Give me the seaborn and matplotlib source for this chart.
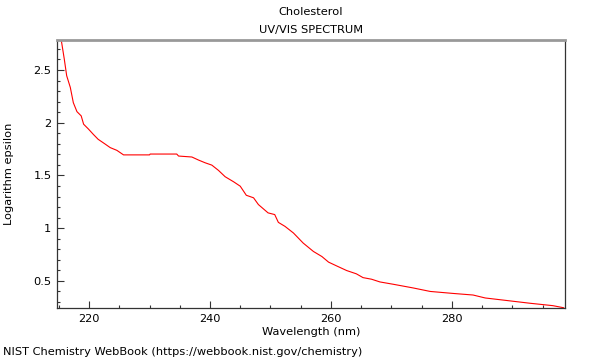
import numpy as np
import pandas as pd
import matplotlib
matplotlib.use("Agg")
import matplotlib.pyplot as plt
import seaborn as sns
from matplotlib.ticker import MultipleLocator

# UV/VIS spectrum of cholesterol
wavelength = [214.8, 215.4, 215.9, 216.3, 216.9, 217.4, 218.0, 218.7, 219.1, 219.9,
              220.7, 221.5, 222.6, 223.5, 224.6, 225.7, 230.0, 230.1, 234.5, 234.8,
              237.0, 238.1, 239.2, 240.3, 241.4, 242.5, 243.9, 245.0, 246.0, 247.2,
              248.0, 249.6, 250.7, 251.3, 252.4, 253.8, 255.4, 257.1, 258.5, 259.6,
              260.9, 262.6, 264.2, 265.3, 266.7, 268.1, 270.3, 273.6, 276.4, 280.2,
              283.5, 285.5, 290.1, 292.9, 296.7, 298.5]
log_eps = [2.785, 2.785, 2.605, 2.446, 2.335, 2.19, 2.105, 2.065, 1.986, 1.94,
           1.89, 1.843, 1.80, 1.764, 1.738, 1.695, 1.695, 1.703, 1.703, 1.684,
           1.675, 1.646, 1.62, 1.598, 1.548, 1.488, 1.44, 1.398, 1.312, 1.288,
           1.224, 1.145, 1.129, 1.055, 1.017, 0.954, 0.859, 0.779, 0.731, 0.678,
           0.643, 0.598, 0.567, 0.531, 0.516, 0.49, 0.468, 0.433, 0.40, 0.381,
           0.366, 0.338, 0.307, 0.288, 0.265, 0.245]

title_name = "Cholesterol"
title_kind = "UV/VIS SPECTRUM"
source = "NIST Chemistry WebBook (https://webbook.nist.gov/chemistry)"

df = pd.DataFrame({"wavelength": wavelength, "log_eps": log_eps})

sns.set_style("white")
plt.rcParams['font.family'] = ['DejaVu Sans']
plt.rcParams['font.size'] = 8
plt.rcParams['text.color'] = 'black'
plt.rcParams['axes.labelcolor'] = 'black'
plt.rcParams['xtick.color'] = 'black'
plt.rcParams['ytick.color'] = 'black'

fig = plt.figure(figsize=(6, 3.6), dpi=100)
ax = fig.add_axes([0.095, 0.1436, 0.8467, 0.7454])

sns.lineplot(data=df, x="wavelength", y="log_eps", color="#ff0000",
             linewidth=0.8, sort=False, estimator=None, ax=ax)

ax.set_xlim(214.7, 298.7)
ax.set_ylim(0.24, 2.785)

ax.xaxis.set_major_locator(MultipleLocator(20))
ax.xaxis.set_minor_locator(MultipleLocator(5))
ax.yaxis.set_major_locator(MultipleLocator(0.5))
ax.yaxis.set_minor_locator(MultipleLocator(0.1))
ax.set_yticks([0.5, 1, 1.5, 2, 2.5])
ax.set_yticklabels(["0.5", "1", "1.5", "2", "2.5"])

ax.tick_params(which="both", direction="in", top=False, right=False,
               left=True, bottom=True, labelsize=8.2, color="#333333",
               labelcolor="black", pad=4)
ax.tick_params(which="major", length=5, width=0.8)
ax.tick_params(which="minor", length=2.5, width=0.8)

for side in ["left", "bottom", "right"]:
    ax.spines[side].set_color("#333333")
    ax.spines[side].set_linewidth(0.9)
ax.spines["top"].set_color("#999999")
ax.spines["top"].set_linewidth(2)

ax.set_xlabel("Wavelength (nm)", fontsize=8.2, labelpad=2)
ax.set_ylabel("Logarithm epsilon", fontsize=8.2, labelpad=14)

fig.text(0.518, 0.966, title_name, ha="center", va="center", fontsize=8.2)
fig.text(0.518, 0.916, title_kind, ha="center", va="center", fontsize=8.2)
fig.text(0.005, 0.022, source, ha="left", va="center", fontsize=8.2)

fig.savefig("out.png", dpi=100)
